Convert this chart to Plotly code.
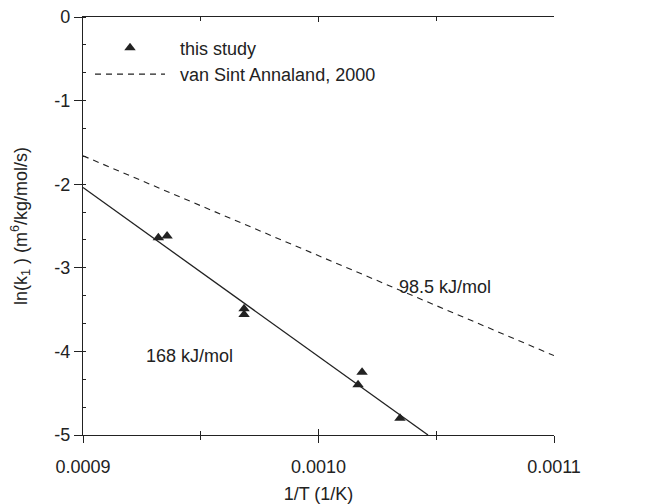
import plotly.graph_objects as go

# data
study_x = [0.000932, 0.0009357, 0.0009684, 0.0009684, 0.0010168, 0.0010185, 0.0010346]
study_y = [-2.64, -2.62, -3.49, -3.56, -4.40, -4.25, -4.80]

fit_x = [0.0009, 0.0010465]
fit_y = [-2.04, -5.0]

ref_x = [0.0009, 0.0011]
ref_y = [-1.66, -4.05]

ann_x = [0.0009454, 0.0010537]
ann_y = [-4.05, -3.23]
ann_text = ["168 kJ/mol", "98.5 kJ/mol"]

y_tick_vals = [-5, -4, -3, -2, -1, 0]
y_tick_text = ["-5", "-4", "-3", "-2", "-1", "0"]
x_tick_vals = [0.0009, 0.0010, 0.0011]
x_tick_text = ["0.0009", "0.0010", "0.0011"]

FONT = "Liberation Sans, Arial, sans-serif"
INK = "#222222"
fs = 18
PAD = "&nbsp;&nbsp;"

fig = go.Figure()
fig.add_trace(go.Scatter(x=study_x, y=study_y, mode="markers", name=PAD + "this study",
                         marker=dict(symbol="triangle-up", size=10, color=INK)))
fig.add_trace(go.Scatter(x=fit_x, y=fit_y, mode="lines", showlegend=False,
                         line=dict(color=INK, width=1.3)))
fig.add_trace(go.Scatter(x=ref_x, y=ref_y, mode="lines", name=PAD + "van Sint Annaland, 2000",
                         line=dict(color=INK, width=1.1, dash="6px,5px")))
# invisible traces to carry the overlay axes (crossing ticks / top axis)
fig.add_trace(go.Scatter(x=ref_x, y=ref_y, xaxis="x2", mode="lines", showlegend=False,
                         line=dict(width=0), hoverinfo="skip", opacity=0))
fig.add_trace(go.Scatter(x=ref_x, y=ref_y, xaxis="x3", mode="lines", showlegend=False,
                         line=dict(width=0), hoverinfo="skip", opacity=0))

for x, y, t in zip(ann_x, ann_y, ann_text):
    fig.add_annotation(x=x, y=y, text=t, showarrow=False,
                       font=dict(family=FONT, size=fs, color=INK))

xr = [0.0009, 0.0011]
common_x = dict(range=xr, showgrid=False, zeroline=False,
                linecolor=INK, tickcolor=INK, automargin=False,
                tickmode="array", tickvals=x_tick_vals, ticktext=x_tick_text)
minor_x_out = dict(ticks="outside", ticklen=4, dtick=0.00005, tick0=0.0009, tickcolor=INK)
minor_x_in = dict(ticks="inside", ticklen=4, dtick=0.00005, tick0=0.0009, tickcolor=INK)
# page body has an 8px default margin: figure is 643x496 so it fills the 651x504 window
fig.update_layout(
    width=643, height=496,
    margin=dict(l=75, r=97, t=9, b=69),
    plot_bgcolor="white", paper_bgcolor="white",
    font=dict(family=FONT, size=fs, color=INK),
    xaxis=dict(**common_x, showline=True, linewidth=1.3, ticks="outside", ticklen=7,
               ticklabelstandoff=8, ticklabeloverflow="allow", minor=minor_x_out,
               title=dict(text="1/T (1/K)", font=dict(size=fs), standoff=11)),
    xaxis2=dict(**common_x, overlaying="x", anchor="y", side="bottom", showline=False,
                ticks="inside", ticklen=6, showticklabels=False, minor=minor_x_in),
    xaxis3=dict(**common_x, overlaying="x", anchor="y", side="top", showline=True, linewidth=1.3,
                ticks="inside", ticklen=5, showticklabels=False, minor=minor_x_in),
    yaxis=dict(range=[-5, 0], showgrid=False, zeroline=False, showline=True,
               automargin=False, tickmode="array", tickvals=y_tick_vals, ticktext=y_tick_text,
               ticklabeloverflow="allow",
               linewidth=1.3, linecolor=INK, ticks="outside", ticklen=8, tickcolor=INK,
               minor=dict(ticks="inside", ticklen=3, dtick=1/3, tick0=0, tickcolor=INK),
               title=dict(text="ln(k<sub>1</sub> ) (m<sup>6</sup>/kg/mol/s)", font=dict(size=fs), standoff=24)),
    legend=dict(x=0.0149, y=0.97, xanchor="left", yanchor="top", bgcolor="rgba(0,0,0,0)",
                itemwidth=70, font=dict(size=fs), tracegroupgap=0),
)

fig.write_html("out.html")
